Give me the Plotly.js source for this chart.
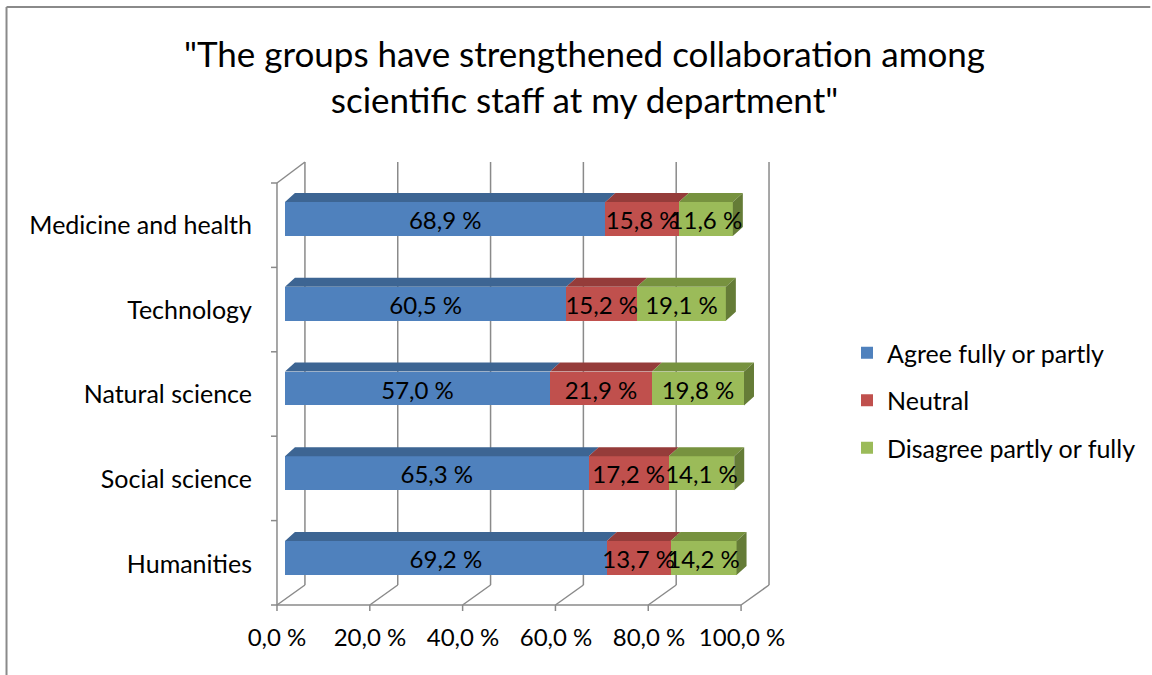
<!DOCTYPE html>
<html><head><meta charset="utf-8">
<script src="https://cdn.plot.ly/plotly-3.0.1.min.js"></script>
<style>html,body{margin:0;padding:0;background:#fff;} #chart{width:1152px;height:675px;}</style>
</head><body><div id="chart"></div>
<script>
// ---- data ----
const categories = ["Humanities", "Social science", "Natural science", "Technology", "Medicine and health"];
const agree = [69.2, 65.3, 57.0, 60.5, 68.9];
const neutral = [13.7, 17.2, 21.9, 15.2, 15.8];
const disagree = [14.2, 14.1, 19.8, 19.1, 11.6];
const seriesNames = ["Agree fully or partly", "Neutral", "Disagree partly or fully"];
const tickValues = [0, 20, 40, 60, 80, 100];
const tickLabels = ["0,0 %", "20,0 %", "40,0 %", "60,0 %", "80,0 %", "100,0 %"];

// ---- styling ----
const frontColors = ["#4F81BD", "#C0504D", "#9BBB59"];
const topColors = ["#3D6593", "#953C3A", "#77923F"];
const sideColor = "#657C37";
const FONT = "Lato, 'Open Sans', sans-serif";

// geometry (pixels)
const W = 1152, H = 675, L = 270, R = 780, T = 158, B = 605;
const x0px = 285, pxPerX = 4.66, yc0 = 558, pxPerY = 84.75;
const xRange = [(L - x0px) / pxPerX, (R - x0px) / pxPerX];
const yRange = [-(B - yc0) / pxPerY, (yc0 - T) / pxPerY];
const barW = 0.4;
const dX = 10 / pxPerX, dY = 9 / pxPerY;
const labelDrop = 4 / pxPerY;

const series = [agree, neutral, disagree];
const yIdx = categories.map((c, i) => i);
const fmt = v => v.toFixed(1).replace('.', ',') + ' %';

const traces = [];
series.forEach((vals, s) => {
  traces.push({
    type: 'bar', orientation: 'h', name: seriesNames[s],
    x: vals, y: yIdx, width: barW,
    marker: {color: frontColors[s], line: {width: 0}},
    hoverinfo: 'x+name', legendgroup: 'g' + s
  });
});

// 3D top faces / side face computed from the data
series.forEach((vals, s) => {
  const xs = [], ys = [];
  vals.forEach((v, i) => {
    let start = 0;
    for (let k = 0; k < s; k++) start += series[k][i];
    const end = start + v;
    const yt = i + barW / 2;
    xs.push(start, end, end + dX, start + dX, start, null);
    ys.push(yt, yt, yt + dY, yt + dY, yt, null);
  });
  traces.push({type: 'scatter', mode: 'lines', x: xs, y: ys, fill: 'toself',
    fillcolor: topColors[s], line: {width: 0}, hoverinfo: 'skip', showlegend: false});
});
{
  const xs = [], ys = [];
  categories.forEach((c, i) => {
    const end = agree[i] + neutral[i] + disagree[i];
    const yb = i - barW / 2, yt = i + barW / 2;
    xs.push(end, end, end + dX, end + dX, end, null);
    ys.push(yb, yt, yt + dY, yb + dY, yb, null);
  });
  traces.push({type: 'scatter', mode: 'lines', x: xs, y: ys, fill: 'toself',
    fillcolor: sideColor, line: {width: 0}, hoverinfo: 'skip', showlegend: false});
}

// data labels at segment centres (drawn last so they sit on top)
{
  const xs = [], ys = [], ts = [];
  series.forEach((vals, s) => {
    vals.forEach((v, i) => {
      let start = 0;
      for (let k = 0; k < s; k++) start += series[k][i];
      xs.push(start + v / 2); ys.push(i - labelDrop); ts.push(fmt(v));
    });
  });
  traces.push({type: 'scatter', mode: 'text', x: xs, y: ys, text: ts,
    textposition: 'middle center', cliponaxis: false,
    textfont: {family: FONT, size: 24, color: '#000'}, hoverinfo: 'skip', showlegend: false});
}

// frame (decorative 3D box) in paper coords from pixel positions
const px = x => (x - L) / (R - L);
const py = y => (B - y) / (B - T);
const GC = '#8a8a8a';
const shapes = [];
const seg = (x1, y1, x2, y2, w) => shapes.push({type: 'line', xref: 'paper', yref: 'paper',
  x0: px(x1), y0: py(y1), x1: px(x2), y1: py(y2), line: {color: GC, width: w || 1.5}, layer: 'below'});
for (let k = 0; k < 6; k++) {
  const fx = 277 + 93 * k, bx = 305 + 93 * k;
  seg(bx, 162, bx, 585);          // back wall gridline
  seg(fx, 605, bx, 585);          // floor diagonal
  seg(fx, 605, fx, 611);          // tick mark
  const ty = 183 + 84.4 * k;
  seg(271, ty, 277, ty);          // category tick
}
seg(277, 183, 277, 605);
seg(277, 183, 305, 162);
seg(277, 605, 742, 605);
// outer chart border (left & top)
seg(6, 7, 6, 675, 2);
seg(6, 7, 1152, 7, 2);

const layout = {
  width: W, height: H,
  margin: {l: L, r: W - R, t: T, b: H - B, pad: 0},
  paper_bgcolor: '#fff', plot_bgcolor: 'rgba(0,0,0,0)',
  barmode: 'stack', showlegend: true,
  title: {text: '"The groups have strengthened collaboration among<br>scientific staff at my department"',
    font: {family: FONT, size: 35, color: '#000'}, x: 584.5 / W, xref: 'container', xanchor: 'center',
    y: 1 - 67 / H, yref: 'container', yanchor: 'middle'},
  xaxis: {range: xRange, showgrid: false, zeroline: false, showline: false, ticks: '',
    tickvals: tickValues, ticktext: tickLabels, ticklabelshift: -8, ticklabelstandoff: 16,
    tickfont: {family: FONT, size: 24, color: '#000'}, fixedrange: true},
  yaxis: {range: yRange, showgrid: false, zeroline: false, showline: false, ticks: '',
    tickvals: yIdx, ticktext: categories, ticklabelshift: 6, ticklabelstandoff: 17,
    tickfont: {family: FONT, size: 25, color: '#000'}, fixedrange: true},
  legend: {x: px(847), y: py(330), xanchor: 'left', yanchor: 'top', tracegroupgap: 12,
    font: {family: FONT, size: 25, color: '#000'}, bgcolor: 'rgba(0,0,0,0)'},
  shapes: shapes
};

Plotly.newPlot('chart', traces, layout, {displayModeBar: false, staticPlot: true});
</script>
</body></html>
